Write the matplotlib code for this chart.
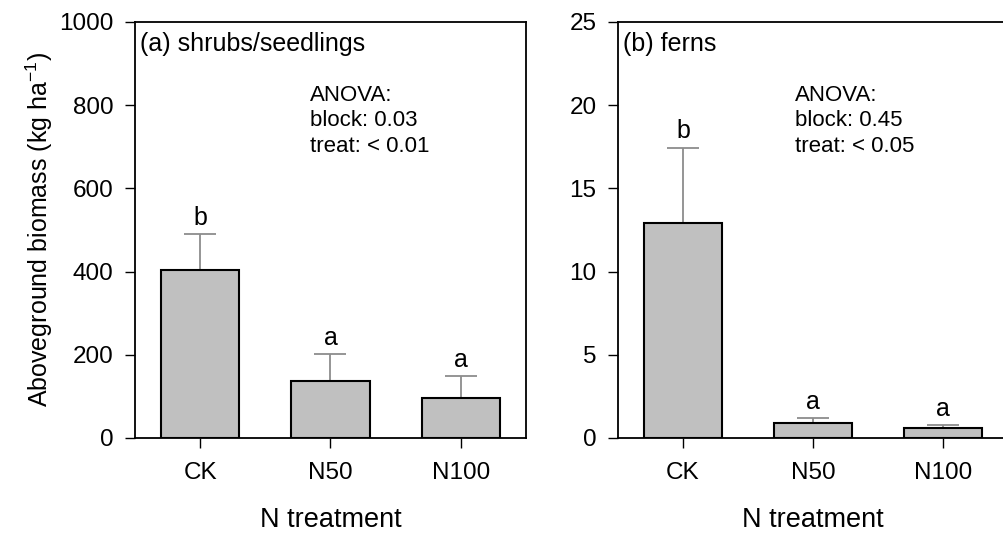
import numpy as np
import matplotlib.pyplot as plt

plt.rcParams['font.family'] = ['Liberation Sans', 'DejaVu Sans']

treatments = ['CK', 'N50', 'N100']
shrub_mean = [404, 138, 97]
shrub_se = [86, 64, 52]
shrub_letters = ['b', 'a', 'a']
fern_mean = [12.9, 0.88, 0.62]
fern_se = [4.55, 0.3, 0.18]
fern_letters = ['b', 'a', 'a']

fig = plt.figure(figsize=(10.04, 5.33), dpi=100)
W, H = 1004.0, 533.0
ax1 = fig.add_axes([135 / W, 1 - 438 / H, 391 / W, 416 / H])
ax2 = fig.add_axes([618 / W, 1 - 438 / H, 390 / W, 416 / H])


def panel(ax, mean, se, letters, ymax, step, title, anova, off):
    x = np.arange(len(treatments))
    ax.bar(x, mean, width=0.6, color='#c0c0c0', edgecolor='black', linewidth=1.5, zorder=3)
    ax.errorbar(x, mean, yerr=[np.zeros(len(x)), se], fmt='none', ecolor='#8c8c8c',
                elinewidth=1.3, capsize=11.5, capthick=1.3, zorder=2)
    for xi, m, s, l in zip(x, mean, se, letters):
        ax.annotate(l, (xi, m + s), xytext=(0, 3), textcoords='offset points',
                    ha='center', va='bottom', fontsize=18)
    ax.set_xlim(-0.5, 2.5)
    ax.set_ylim(0, ymax)
    ax.set_yticks(np.arange(0, ymax + step / 2, step))
    ax.set_xticks(x)
    ax.set_xticklabels(treatments)
    ax.tick_params(direction='out', length=7, width=1, labelsize=17.5)
    ax.tick_params(axis='y', pad=8.5)
    ax.tick_params(axis='x', pad=10.5)
    for sp in ax.spines.values():
        sp.set_linewidth(1.3)
    ax.set_xlabel('N treatment', fontsize=19.5, labelpad=16)
    ax.text(0.013, 0.93, title, transform=ax.transAxes, fontsize=18, va='baseline', ha='left')
    for i, line in enumerate(anova):
        ax.text(off, 0.81 - 0.061 * i, line, transform=ax.transAxes, fontsize=16,
                va='baseline', ha='left')


panel(ax1, shrub_mean, shrub_se, shrub_letters, 1000, 200, '(a) shrubs/seedlings',
      ['ANOVA:', 'block: 0.03', 'treat: < 0.01'], (310 - 135) / 391)
panel(ax2, fern_mean, fern_se, fern_letters, 25, 5, '(b) ferns',
      ['ANOVA:', 'block: 0.45', 'treat: < 0.05'], (795 - 618) / 390)

ax1.set_ylabel('Aboveground biomass (kg ha$^{\\mathregular{-1}}$)', fontsize=18, labelpad=3)

fig.savefig('out.png', dpi=100)
